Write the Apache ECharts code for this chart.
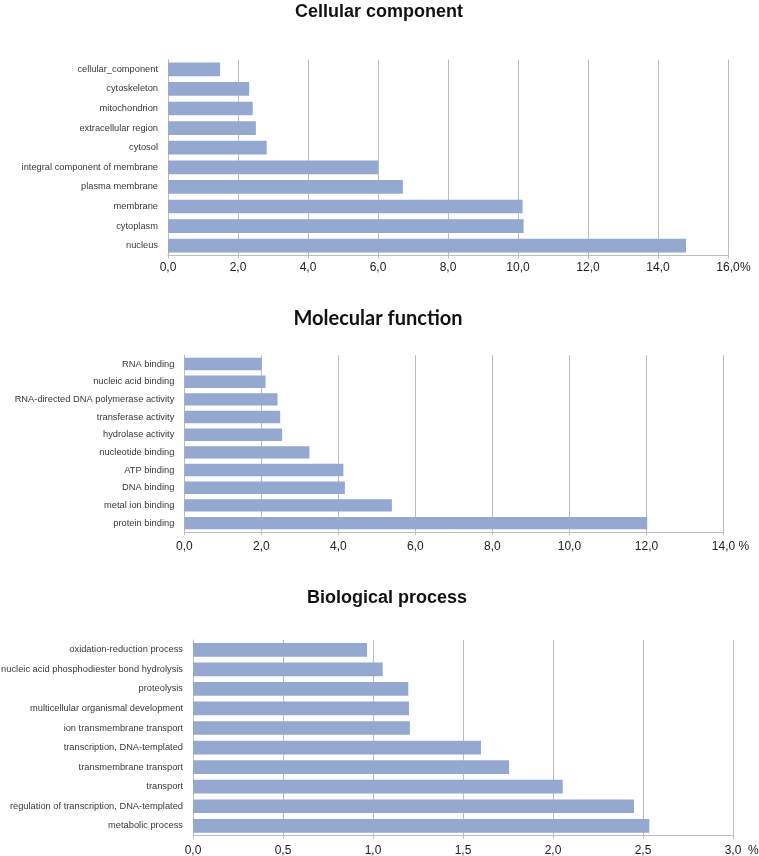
<!DOCTYPE html>
<html>
<head>
<meta charset="utf-8">
<script src="https://cdn.jsdelivr.net/npm/echarts@6/dist/echarts.min.js"></script>
<style>
html,body{margin:0;padding:0;background:#fff;}
#chart{width:759px;height:856px;}
</style>
</head>
<body>
<div id="chart"></div>
<script>
// Cellular component (top to bottom)
var ccCategories = ['cellular_component','cytoskeleton','mitochondrion','extracellular region','cytosol','integral component of membrane','plasma membrane','membrane','cytoplasm','nucleus'];
var ccValues = [1.49, 2.32, 2.42, 2.51, 2.82, 6.0, 6.71, 10.13, 10.16, 14.8];

// Molecular function (top to bottom)
var mfCategories = ['RNA binding','nucleic acid binding','RNA-directed DNA polymerase activity','transferase activity','hydrolase activity','nucleotide binding','ATP binding','DNA binding','metal ion binding','protein binding'];
var mfValues = [2.01, 2.11, 2.42, 2.49, 2.54, 3.25, 4.13, 4.17, 5.39, 12.02];

// Biological process (top to bottom)
var bpCategories = ['oxidation-reduction process','nucleic acid phosphodiester bond hydrolysis','proteolysis','multicellular organismal development','ion transmembrane transport','transcription, DNA-templated','transmembrane transport','transport','regulation of transcription, DNA-templated','metabolic process'];
var bpValues = [0.967, 1.054, 1.196, 1.20, 1.205, 1.60, 1.756, 2.054, 2.45, 2.535];

var titles = ['Cellular component','Molecular function','Biological process'];

var barColor = '#94a8d0';
var gridColor = '#bcbcbc';
var font = 'Liberation Sans, Arial, sans-serif';

function fmt(v){ return v.toFixed(1).replace('.', ','); }

function xAxis(idx, max, interval, gap, margin){
  return {
    type:'value', gridIndex: idx, min:0, max:max, interval:interval,
    name:'%', nameLocation:'end', nameGap:gap, nameMoveOverlap:false,
    nameTextStyle:{fontFamily:font, fontSize:12, color:'#222', verticalAlign:'top', padding:[margin,0,0,0]},
    axisLine:{show:true, lineStyle:{color:gridColor, width:1}},
    axisTick:{show:true, length:3, lineStyle:{color:gridColor}},
    axisLabel:{fontFamily:font, fontSize:12, color:'#222', margin:margin, formatter:fmt},
    splitLine:{show:true, lineStyle:{color:gridColor, width:1}}
  };
}
function yAxis(idx, cats){
  return {
    type:'category', gridIndex: idx, data:cats, inverse:true,
    axisLine:{show:true, lineStyle:{color:gridColor, width:1}},
    axisTick:{show:false},
    axisLabel:{fontFamily:font, fontSize:9.3, color:'#383838', margin:10}
  };
}
function bar(idx, vals){
  return {type:'bar', xAxisIndex:idx, yAxisIndex:idx, data:vals, barCategoryGap:'30%',
    itemStyle:{color:barColor}, silent:true};
}

var chart = echarts.init(document.getElementById('chart'), null, {renderer:'canvas'});
chart.setOption({
  animation:false,
  backgroundColor:'#fff',
  title:[
    {text:titles[0], left:379, top:3, textAlign:'center', padding:0, textStyle:{fontFamily:font, fontSize:18, fontWeight:'bold', color:'#111'}},
    {text:titles[1], left:378, top:309, textAlign:'center', padding:0, textStyle:{fontFamily:'Lato, Open Sans, sans-serif', fontSize:20, fontWeight:'bold', color:'#111'}},
    {text:titles[2], left:387, top:589, textAlign:'center', padding:0, textStyle:{fontFamily:font, fontSize:18, fontWeight:'bold', color:'#111'}}
  ],
  grid:[
    {left:168, right:31, top:59.5, height:196, containLabel:false, outerBoundsMode:'none'},
    {left:184.3, right:35.5, top:355.2, height:176.7, containLabel:false, outerBoundsMode:'none'},
    {left:193, right:26, top:640, height:195.6, containLabel:false, outerBoundsMode:'none'}
  ],
  xAxis:[xAxis(0,16,2,12,6.5), xAxis(1,14,2,15,9), xAxis(2,3,0.5,15,9)],
  yAxis:[yAxis(0,ccCategories), yAxis(1,mfCategories), yAxis(2,bpCategories)],
  series:[bar(0,ccValues), bar(1,mfValues), bar(2,bpValues)]
});
</script>
</body>
</html>
